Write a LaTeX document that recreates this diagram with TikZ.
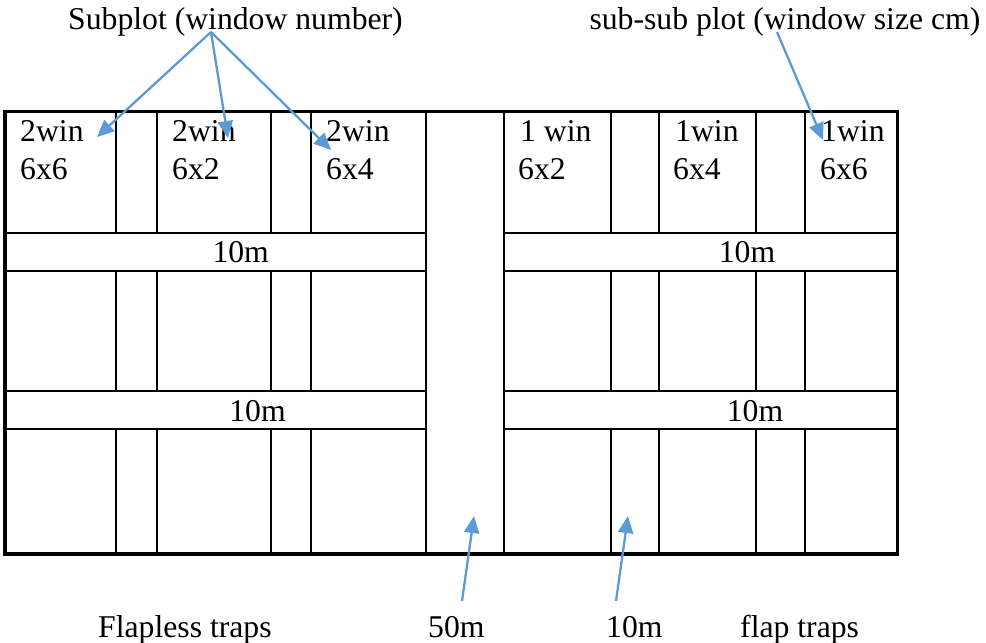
\documentclass[tikz,border=0pt]{standalone}
\usepackage{fontspec}
\setmainfont{Liberation Serif}
\usetikzlibrary{arrows.meta}
\definecolor{arrowblue}{HTML}{5B9BD5}
\tikzset{
  lbl/.style={inner sep=0pt, font=\fontsize{31.7}{38}\selectfont, anchor=base west},
  mid/.style={inner sep=0pt, font=\fontsize{31.7}{38}\selectfont, anchor=base},
  grid/.style={line width=1.9pt, black},
  frame/.style={line width=3.4pt, black},
  pointer/.style={arrowblue, line width=2.3pt, -{Triangle[length=17pt,width=15pt]}}
}
\begin{document}
\begin{tikzpicture}[x=1pt,y=-1pt]
\useasboundingbox (0,0) rectangle (986,643);
% field layout: interior grid lines
\foreach \xa in {116,157,270.7,311.3,611,659.3,755.7,804.7}{
  \draw[grid] (\xa,111.7) -- (\xa,232.7);
  \draw[grid] (\xa,271) -- (\xa,391);
  \draw[grid] (\xa,429) -- (\xa,554);
}
\foreach \ya in {232.7,271,391,429}{
  \draw[grid] (5,\ya) -- (426,\ya);
  \draw[grid] (503.7,\ya) -- (897.7,\ya);
}
\draw[grid] (426,111.7) -- (426,554);
\draw[grid] (503.7,111.7) -- (503.7,554);
\draw[frame] (5,111.7) rectangle (897.7,554);
% plot labels
\node[lbl] (w1) at (20,141.7) {2win};   \node[lbl] (s1) at (20,179) {6x6};
\node[lbl] (w2) at (172,141.7) {2win};  \node[lbl] (s2) at (172,179) {6x2};
\node[lbl] (w3) at (326,141.7) {2win};  \node[lbl] (s3) at (326,179) {6x4};
\node[lbl] (w4) at (520,141.7) {1 win}; \node[lbl] (s4) at (518,179) {6x2};
\node[lbl] (w5) at (675,141.7) {1win};  \node[lbl] (s5) at (673,179) {6x4};
\node[lbl] (w6) at (821,141.7) {1win};  \node[lbl] (s6) at (820,179) {6x6};
\node[mid] (b1) at (240.7,262.7) {10m};
\node[mid] (b2) at (747,262.7) {10m};
\node[mid] (b3) at (257.5,421.7) {10m};
\node[mid] (b4) at (755,421.7) {10m};
% titles and bottom captions
\node[lbl] (sub) at (68,29.3) {Subplot (window number)};
\node[lbl] (subsub) at (589.3,29.3) {sub-sub plot (window size cm)};
\node[lbl] (flapless) at (98,637) {Flapless traps};
\node[lbl] (fifty) at (428,637) {50m};
\node[lbl] (ten) at (606,637) {10m};
\node[lbl] (flap) at (740,637) {flap traps};
% pointer ends
\coordinate (subsrc) at (211,32);
\coordinate (ssrc) at (777,32);
\coordinate (t1) at (97,137);
\coordinate (t2) at (228,138);
\coordinate (t3) at (331,150);
\coordinate (t4) at (823,140);
\coordinate (fsrc) at (462,601);
\coordinate (t5) at (474,516);
\coordinate (tsrc) at (616,601);
\coordinate (t6) at (628,516);
\draw[pointer] (subsrc) -- (t1);
\draw[pointer] (subsrc) -- (t2);
\draw[pointer] (subsrc) -- (t3);
\draw[pointer] (ssrc) -- (t4);
\draw[pointer] (fsrc) -- (t5);
\draw[pointer] (tsrc) -- (t6);
\end{tikzpicture}
\end{document}
